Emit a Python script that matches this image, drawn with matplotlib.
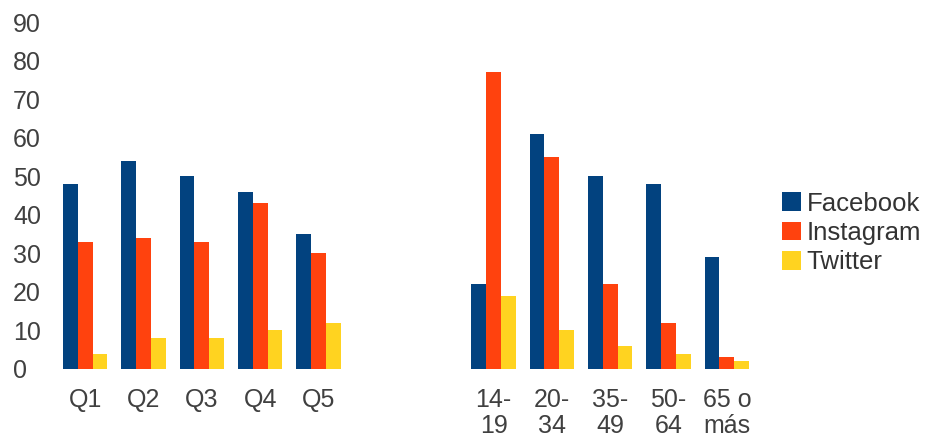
import matplotlib.pyplot as plt
import numpy as np

plt.rcParams['font.family'] = ['Liberation Sans', 'DejaVu Sans']

# categorias (dos huecos vacios entre quintiles y edades)
categorias = ["Q1", "Q2", "Q3", "Q4", "Q5", "", "",
              "14-\n19", "20-\n34", "35-\n49", "50-\n64", "65 o\nmás"]
facebook = [48, 54, 50, 46, 35, 0, 0, 22, 61, 50, 48, 29]
instagram = [33, 34, 33, 43, 30, 0, 0, 77, 55, 22, 12, 3]
twitter = [4, 8, 8, 10, 12, 0, 0, 19, 10, 6, 4, 2]

series = ["Facebook", "Instagram", "Twitter"]
colores = ["#02427f", "#ff420e", "#ffd320"]

x = np.arange(len(categorias))
w = 0.253

fig = plt.figure(figsize=(9.28, 4.41), dpi=100)
ax = fig.add_axes([0.0603, 0.1633, 0.7544, 0.7867])

for i, (vals, nombre, c) in enumerate(zip([facebook, instagram, twitter], series, colores)):
    ax.bar(x + (i - 1) * w, vals, width=w, color=c, label=nombre)

ax.set_xlim(-0.5, len(categorias) - 0.5)
ax.set_ylim(0, 90)
ax.set_yticks(range(0, 91, 10))
ax.set_xticks(x)
ax.set_xticklabels(categorias, linespacing=1.1)

for s in ax.spines.values():
    s.set_visible(False)
ax.tick_params(axis='both', length=0, labelsize=18, colors='#404040')
ax.tick_params(axis='x', pad=14)
ax.tick_params(axis='y', pad=31)
for lbl in ax.get_yticklabels():
    lbl.set_horizontalalignment('left')

fig.legend(loc='center left', bbox_to_anchor=(0.8427, 0.4717), frameon=False,
           fontsize=18.5, handlelength=0.75, handleheight=0.75, handletextpad=0.2,
           labelspacing=0.2, borderpad=0, borderaxespad=0, labelcolor='#333333')

plt.savefig("out.png", dpi=100)
